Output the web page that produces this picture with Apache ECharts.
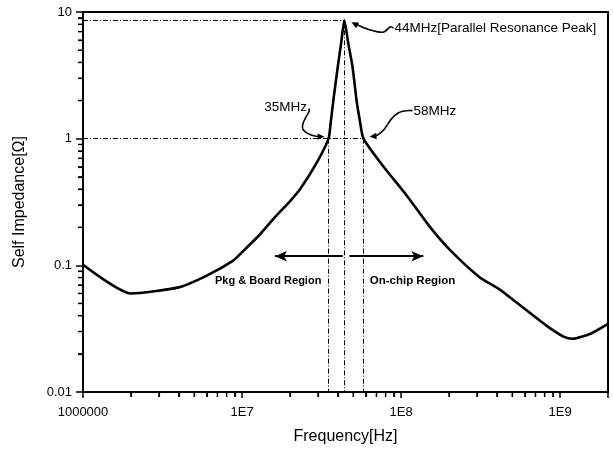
<!DOCTYPE html>
<html>
<head>
<meta charset="utf-8">
<script src="https://cdn.jsdelivr.net/npm/echarts@6/dist/echarts.min.js"></script>
<style>
  html, body { margin: 0; padding: 0; background: #fff; }
  #chart { width: 613px; height: 450px; }
</style>
</head>
<body>
<div id="chart"></div>
<script>
// self impedance curve
const freq = [1e6, 2e6, 4e6, 6e6, 8.8e6, 1e7, 1.3e7, 1.57e7, 2e7, 2.32e7, 2.95e7, 3.5e7, 3.6e7, 3.75e7, 4.0e7, 4.2e7, 4.4e7,
  4.65e7, 4.95e7, 5.25e7, 5.5e7, 5.8e7, 7.7e7, 1.09e8, 1.5e8, 2.0e8, 3.1e8, 4.2e8, 5.1e8, 8.2e8, 1.05e9, 1.2e9, 1.55e9, 2e9];
const impedance = [0.101, 0.060, 0.067, 0.083, 0.109, 0.127, 0.176, 0.232, 0.32, 0.40, 0.647, 1.0, 1.3, 2.0, 3.7, 5.7, 8.6,
  5.7, 3.7, 2.0, 1.4, 1.0, 0.608, 0.353, 0.205, 0.135, 0.081, 0.064, 0.053, 0.0334, 0.0274, 0.0263, 0.0288, 0.0345];

// markers
const peakFreq = 4.4e7, peakImp = 8.6;
const loFreq = 3.5e7, hiFreq = 5.8e7, refImp = 1;
const arrowImp = 0.118;
const leftArrow = [4.3e7, 1.61e7];
const rightArrow = [4.73e7, 1.38e8];

// tick labels and minor tick values
const xMajor = [1e6, 1e7, 1e8, 1e9];
const xTickLabels = ['1000000', '1E7', '1E8', '1E9'];
const xMinor = [2e6, 3e6, 4e6, 5e6, 6e6, 7e6, 8e6, 9e6, 2e7, 3e7, 4e7, 5e7, 6e7, 7e7, 8e7, 9e7,
  2e8, 3e8, 4e8, 5e8, 6e8, 7e8, 8e8, 9e8];
const yMinor = [0.02, 0.03, 0.04, 0.05, 0.06, 0.07, 0.08, 0.09, 0.2, 0.3, 0.4, 0.5, 0.6, 0.7, 0.8, 0.9,
  2, 3, 4, 5, 6, 7, 8, 9];

const chart = echarts.init(document.getElementById('chart'));
const FONT = 'Liberation Sans';
const dashDot = { color: '#000', width: 1, type: [5, 2, 1, 2] };

function isDecade(v) {
  const l = Math.log10(v);
  return Math.abs(l - Math.round(l)) < 1e-6;
}

// plain axis used only to close the frame on top / right
function frameAxis(extra) {
  return Object.assign({
    type: 'log',
    axisLine: { show: true, lineStyle: { color: '#000', width: 2 } },
    axisTick: { show: false },
    axisLabel: { show: false },
    splitLine: { show: false }
  }, extra);
}

const option = {
  animation: false,
  grid: { left: 83, right: 5, top: 12, bottom: 57 },
  xAxis: [
    {
      type: 'log',
      min: 1e6,
      max: 2e9,
      name: 'Frequency[Hz]',
      nameLocation: 'middle',
      nameGap: 37,
      nameTextStyle: { fontFamily: FONT, fontSize: 16, color: '#000' },
      axisLine: { lineStyle: { color: '#000', width: 2 } },
      axisTick: { length: 6, lineStyle: { color: '#000', width: 1.5 } },
      minorTick: { show: true, splitNumber: 9, length: 5, lineStyle: { color: '#000', width: 1.2 } },
      axisLabel: {
        margin: 14,
        fontFamily: FONT, fontSize: 13, color: '#000',
        formatter: v => {
          const i = xMajor.findIndex(m => Math.abs(m - v) / m < 1e-6);
          return i >= 0 ? xTickLabels[i] : '';
        }
      },
      splitLine: { show: false }
    },
    frameAxis({ position: 'top', min: 1e6, max: 2e9 })
  ],
  yAxis: [
    {
      type: 'log',
      min: 0.01,
      max: 10,
      name: 'Self Impedance[Ω]',
      nameLocation: 'middle',
      nameGap: 55,
      nameTextStyle: { fontFamily: FONT, fontSize: 16, color: '#000' },
      axisLine: { lineStyle: { color: '#000', width: 2 } },
      axisTick: { length: 7, lineStyle: { color: '#000', width: 1.5 } },
      minorTick: { show: true, splitNumber: 9, length: 5, lineStyle: { color: '#000', width: 1.2 } },
      axisLabel: {
        margin: 11,
        fontFamily: FONT, fontSize: 13, color: '#000',
        formatter: v => isDecade(v) ? String(+v.toPrecision(3)) : ''
      },
      splitLine: { show: false }
    },
    frameAxis({ position: 'right', min: 0.01, max: 10 })
  ],
  series: [
    {
      type: 'line',
      data: freq.map((f, i) => [f, impedance[i]]),
      showSymbol: false,
      smooth: 0.2,
      lineStyle: { color: '#000', width: 2.6 },
      z: 5,
      markLine: {
        silent: true,
        symbol: 'none',
        label: { show: false },
        lineStyle: dashDot,
        data: [
          [{ coord: [1e6, peakImp] }, { coord: [peakFreq, peakImp] }],
          [{ coord: [1e6, refImp] }, { coord: [hiFreq, refImp] }],
          [{ coord: [loFreq, refImp] }, { coord: [loFreq, 0.01] }],
          [{ coord: [peakFreq, peakImp] }, { coord: [peakFreq, 0.01] }],
          [{ coord: [hiFreq, refImp] }, { coord: [hiFreq, 0.01] }]
        ]
      }
    },
    {
      type: 'line',
      data: [],
      markLine: {
        silent: true,
        symbol: ['none', 'arrow'],
        symbolSize: [8, 12],
        label: { show: false },
        lineStyle: { color: '#000', width: 2, type: 'solid' },
        data: [
          [{ coord: [leftArrow[0], arrowImp] }, { coord: [leftArrow[1], arrowImp] }],
          [{ coord: [rightArrow[0], arrowImp] }, { coord: [rightArrow[1], arrowImp] }]
        ]
      }
    }
  ]
};
chart.setOption(option);

// annotations (text + curly arrows) anchored to data points
function px(v) { return chart.convertToPixel({ gridIndex: 0 }, v); }

function curlyArrow(tip, segs, head) {
  const out = segs.map(s => ({
    type: 'bezierCurve',
    shape: {
      x1: tip[0] + s[0], y1: tip[1] + s[1],
      cpx1: tip[0] + s[2], cpy1: tip[1] + s[3],
      cpx2: tip[0] + s[4], cpy2: tip[1] + s[5],
      x2: tip[0] + s[6], y2: tip[1] + s[7]
    },
    style: { fill: null, stroke: '#000', lineWidth: 1.6 }
  }));
  const a = Math.atan2(head[1], head[0]);
  const len = 7, w = 3.2;
  const bx = tip[0] - Math.cos(a) * len, by = tip[1] - Math.sin(a) * len;
  out.push({
    type: 'polygon',
    shape: {
      points: [
        [tip[0], tip[1]],
        [bx - Math.sin(a) * w, by + Math.cos(a) * w],
        [bx + Math.sin(a) * w, by - Math.cos(a) * w]
      ]
    },
    style: { fill: '#000' }
  });
  return out;
}

function label(text, pos, align, bold, size) {
  return {
    type: 'text',
    x: pos[0], y: pos[1],
    style: {
      text: text, fill: '#000',
      font: (bold ? 'bold ' : '') + size + 'px ' + FONT,
      align: align, verticalAlign: 'middle'
    }
  };
}

// minor tick drawn outside the axis line
function tick(p, dx, dy) {
  return {
    type: 'line',
    z: 100,
    shape: { x1: p[0], y1: p[1], x2: p[0] + dx, y2: p[1] + dy },
    style: { stroke: '#000', lineWidth: 1.3 }
  };
}

const pLo = px([loFreq, refImp]);
const pHi = px([hiFreq, refImp]);
const pPk = px([peakFreq, peakImp]);
const tLo = [pLo[0] - 4, pLo[1] - 2];
const tHi = [pHi[0] + 6, pHi[1] - 2];
const tPk = [pPk[0] + 7, pPk[1] + 2];

const elements = []
  .concat(xMinor.map(v => tick(px([v, 0.01]), 0, 5)))
  .concat(yMinor.map(v => tick(px([1e6, v]), -5, 0)))
  .concat(curlyArrow(tLo, [
    [-16, -28, -12, -26, -24, -16, -22, -8],
    [-22, -8, -19, -2, -8, 0, -5, 0]
  ], [1, 0]))
  .concat(curlyArrow(tHi, [
    [43, -26, 30, -27, 24, -22, 18, -12],
    [18, -12, 14, -5, 8, -1, 5, -0.5]
  ], [-1, 0.1]))
  .concat(curlyArrow(tPk, [
    [42, 6, 38, 1, 36, 10, 31, 10],
    [31, 10, 24, 10, 12, 6, 5, 2]
  ], [-1, -0.5]))
  .concat([
    label('35MHz', [tLo[0] - 39, tLo[1] - 29], 'center', false, 13.5),
    label('58MHz', [tHi[0] + 44, tHi[1] - 25], 'left', false, 13.5),
    label('44MHz[Parallel Resonance Peak]', [tPk[0] + 43, tPk[1] + 6], 'left', false, 13.5),
    label('Pkg & Board Region', px([1.46e7, 0.075]), 'center', true, 11),
    label('On-chip Region', px([1.18e8, 0.075]), 'center', true, 11.5)
  ]);

chart.setOption({ graphic: { elements: elements } });
</script>
</body>
</html>
